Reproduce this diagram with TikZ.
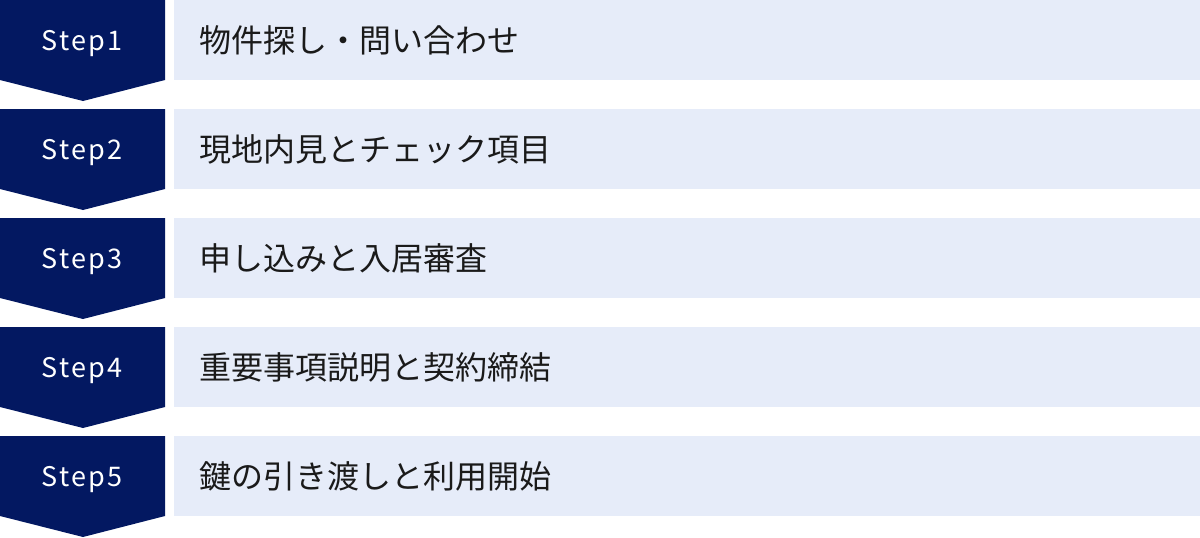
\documentclass[tikz,border=0pt]{standalone}
\usepackage{fontspec}
\setmainfont{Noto Sans CJK JP}
\newfontfamily\stepfont[LetterSpace=8]{Noto Sans CJK JP}
\definecolor{navy}{RGB}{3,24,97}
\definecolor{lightbar}{RGB}{230,236,249}
\definecolor{ink}{RGB}{26,26,26}
\begin{document}
\begin{tikzpicture}[x=1pt,y=-1pt,
  stepshape/.style={fill=navy,draw=none},
  barshape/.style={fill=lightbar,draw=none},
  steplabel/.style={text=white,font=\stepfont\fontsize{27}{27}\selectfont,inner sep=0pt,anchor=center},
  barlabel/.style={text=ink,font=\fontsize{32}{32}\selectfont,inner sep=0pt,anchor=west}]
\useasboundingbox (0,0) rectangle (1200,538);
\foreach \i/\t in {1/物件探し・問い合わせ,2/現地内見とチェック項目,3/申し込みと入居審査,4/重要事項説明と契約締結,5/鍵の引き渡しと利用開始}{
  \pgfmathsetmacro{\y}{(\i-1)*109}
  \fill[stepshape] (0,\y) -- (165,\y) -- (165,\y+80) -- (83,\y+101) -- (0,\y+80) -- cycle;
  \fill[barshape] (174,\y) rectangle (1200,\y+80);
  \node[steplabel] (s\i) at (82,\y+44) {Step\i};
  \node[barlabel] (b\i) at (199,\y+40) {\t};
}
\end{tikzpicture}
\end{document}
